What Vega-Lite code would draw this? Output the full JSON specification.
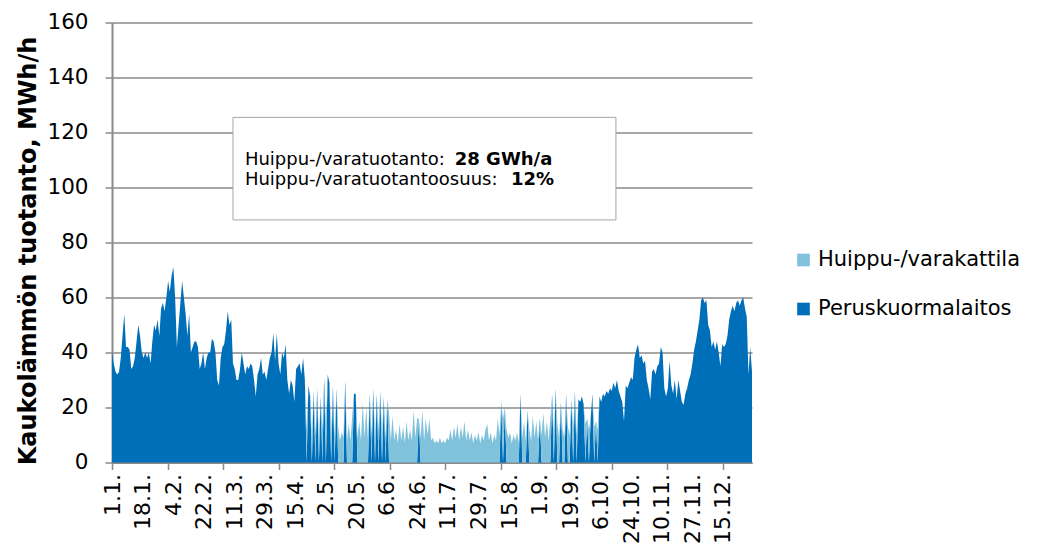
{
  "$schema": "https://vega.github.io/schema/vega-lite/v6.json",
  "width": 640,
  "height": 440,
  "autosize": {"type": "none"},
  "padding": {"left": 112, "top": 22.5, "right": 293, "bottom": 88.5},
  "background": "white",
  "config": {"view": {"stroke": null}, "font": "DejaVu Sans"},
  "resolve": {"axis": {"x": "independent"}},
  "layer": [
    {
      "data": {
        "values": [
          {"d":0,"p":40,"h":0},{"d":1,"p":36,"h":0},{"d":2,"p":33,"h":0},{"d":3,"p":32,"h":0},{"d":4,"p":33,"h":0},{"d":5,"p":38,"h":0},{"d":6,"p":46,"h":0},{"d":7,"p":54,"h":0},{"d":8,"p":42,"h":0},{"d":9,"p":42,"h":0},
          {"d":10,"p":41,"h":0},{"d":11,"p":34,"h":0},{"d":12,"p":35,"h":0},{"d":13,"p":38,"h":0},{"d":14,"p":44,"h":0},{"d":15,"p":50,"h":0},{"d":16,"p":46,"h":0},{"d":17,"p":40,"h":0},{"d":18,"p":38,"h":0},{"d":19,"p":40,"h":0},
          {"d":20,"p":38,"h":0},{"d":21,"p":40,"h":0},{"d":22,"p":36,"h":0},{"d":23,"p":44,"h":0},{"d":24,"p":50,"h":0},{"d":25,"p":48,"h":0},{"d":26,"p":52,"h":0},{"d":27,"p":46,"h":0},{"d":28,"p":56,"h":0},{"d":29,"p":58,"h":0},
          {"d":30,"p":55,"h":0},{"d":31,"p":60,"h":0},{"d":32,"p":66,"h":0},{"d":33,"p":62,"h":0},{"d":34,"p":68,"h":0},{"d":35,"p":71,"h":0},{"d":36,"p":60,"h":0},{"d":37,"p":42,"h":0},{"d":38,"p":50,"h":0},{"d":39,"p":58,"h":0},
          {"d":40,"p":66,"h":0},{"d":41,"p":60,"h":0},{"d":42,"p":54,"h":0},{"d":43,"p":46,"h":0},{"d":44,"p":54,"h":0},{"d":45,"p":40,"h":0},{"d":46,"p":42,"h":0},{"d":47,"p":44,"h":0},{"d":48,"p":44,"h":0},{"d":49,"p":42,"h":0},
          {"d":50,"p":34,"h":0},{"d":51,"p":36,"h":0},{"d":52,"p":40,"h":0},{"d":53,"p":34,"h":0},{"d":54,"p":38,"h":0},{"d":55,"p":40,"h":0},{"d":56,"p":40,"h":0},{"d":57,"p":45,"h":0},{"d":58,"p":44,"h":0},{"d":59,"p":40,"h":0},
          {"d":60,"p":30,"h":0},{"d":61,"p":28,"h":0},{"d":62,"p":38,"h":0},{"d":63,"p":42,"h":0},{"d":64,"p":43,"h":0},{"d":65,"p":48,"h":0},{"d":66,"p":55,"h":0},{"d":67,"p":50,"h":0},{"d":68,"p":52,"h":0},{"d":69,"p":36,"h":0},
          {"d":70,"p":34,"h":0},{"d":71,"p":30,"h":0},{"d":72,"p":30,"h":0},{"d":73,"p":34,"h":0},{"d":74,"p":40,"h":0},{"d":75,"p":36,"h":0},{"d":76,"p":32,"h":0},{"d":77,"p":35,"h":0},{"d":78,"p":34,"h":0},{"d":79,"p":36,"h":0},
          {"d":80,"p":35,"h":0},{"d":81,"p":30,"h":0},{"d":82,"p":24,"h":0},{"d":83,"p":32,"h":0},{"d":84,"p":34,"h":0},{"d":85,"p":38,"h":0},{"d":86,"p":32,"h":0},{"d":87,"p":33,"h":0},{"d":88,"p":30,"h":0},{"d":89,"p":34,"h":0},
          {"d":90,"p":38,"h":0},{"d":91,"p":40,"h":0},{"d":92,"p":47,"h":0},{"d":93,"p":37,"h":0},{"d":94,"p":47,"h":0},{"d":95,"p":36,"h":0},{"d":96,"p":32,"h":0},{"d":97,"p":40,"h":0},{"d":98,"p":38,"h":0},{"d":99,"p":43,"h":0},
          {"d":100,"p":30,"h":0},{"d":101,"p":25,"h":0},{"d":102,"p":30,"h":0},{"d":103,"p":28,"h":0},{"d":104,"p":22,"h":0},{"d":105,"p":34,"h":0},{"d":106,"p":35,"h":0},{"d":107,"p":36,"h":0},{"d":108,"p":32,"h":0},{"d":109,"p":38,"h":0},
          {"d":110,"p":30,"h":0},{"d":111,"p":0,"h":12},{"d":112,"p":28,"h":0},{"d":113,"p":24,"h":0},{"d":114,"p":0,"h":9},{"d":115,"p":26,"h":0},{"d":116,"p":0,"h":10},{"d":117,"p":27,"h":0},{"d":118,"p":0,"h":8},{"d":119,"p":24,"h":0},
          {"d":120,"p":0,"h":12},{"d":121,"p":31,"h":0},{"d":122,"p":0,"h":14},{"d":123,"p":32,"h":0},{"d":124,"p":29,"h":0},{"d":125,"p":0,"h":10},{"d":126,"p":28,"h":0},{"d":127,"p":0,"h":9},{"d":128,"p":27,"h":0},{"d":129,"p":0,"h":13},
          {"d":130,"p":0,"h":8},{"d":131,"p":0,"h":11},{"d":132,"p":0,"h":9},{"d":133,"p":30,"h":0},{"d":134,"p":0,"h":8},{"d":135,"p":0,"h":14},{"d":136,"p":0,"h":8},{"d":137,"p":0,"h":17},{"d":138,"p":25,"h":0},{"d":139,"p":25,"h":0},
          {"d":140,"p":0,"h":9},{"d":141,"p":0,"h":15},{"d":142,"p":0,"h":8},{"d":143,"p":0,"h":22},{"d":144,"p":0,"h":9},{"d":145,"p":0,"h":20},{"d":146,"p":0,"h":8},{"d":147,"p":25,"h":0},{"d":148,"p":0,"h":10},{"d":149,"p":27,"h":0},
          {"d":150,"p":0,"h":9},{"d":151,"p":25,"h":0},{"d":152,"p":0,"h":12},{"d":153,"p":26,"h":0},{"d":154,"p":0,"h":10},{"d":155,"p":24,"h":0},{"d":156,"p":0,"h":9},{"d":157,"p":23,"h":0},{"d":158,"p":0,"h":18},{"d":159,"p":0,"h":8},
          {"d":160,"p":0,"h":17},{"d":161,"p":0,"h":8},{"d":162,"p":0,"h":12},{"d":163,"p":0,"h":7},{"d":164,"p":0,"h":14},{"d":165,"p":0,"h":8},{"d":166,"p":0,"h":13},{"d":167,"p":0,"h":7},{"d":168,"p":0,"h":15},{"d":169,"p":0,"h":8},
          {"d":170,"p":0,"h":12},{"d":171,"p":0,"h":8},{"d":172,"p":0,"h":19},{"d":173,"p":0,"h":9},{"d":174,"p":0,"h":16},{"d":175,"p":16,"h":0},{"d":176,"p":0,"h":9},{"d":177,"p":0,"h":19},{"d":178,"p":0,"h":8},{"d":179,"p":0,"h":16},
          {"d":180,"p":0,"h":10},{"d":181,"p":0,"h":16},{"d":182,"p":0,"h":8},{"d":183,"p":0,"h":9},{"d":184,"p":0,"h":7},{"d":185,"p":0,"h":8},{"d":186,"p":0,"h":7},{"d":187,"p":0,"h":9},{"d":188,"p":0,"h":7},{"d":189,"p":0,"h":8},
          {"d":190,"p":0,"h":7},{"d":191,"p":0,"h":9},{"d":192,"p":0,"h":8},{"d":193,"p":0,"h":12},{"d":194,"p":0,"h":8},{"d":195,"p":0,"h":13},{"d":196,"p":0,"h":9},{"d":197,"p":0,"h":14},{"d":198,"p":0,"h":8},{"d":199,"p":0,"h":13},
          {"d":200,"p":0,"h":9},{"d":201,"p":0,"h":15},{"d":202,"p":0,"h":8},{"d":203,"p":0,"h":12},{"d":204,"p":0,"h":8},{"d":205,"p":0,"h":11},{"d":206,"p":0,"h":7},{"d":207,"p":0,"h":10},{"d":208,"p":0,"h":8},{"d":209,"p":0,"h":11},
          {"d":210,"p":0,"h":7},{"d":211,"p":0,"h":10},{"d":212,"p":0,"h":8},{"d":213,"p":0,"h":12},{"d":214,"p":0,"h":14},{"d":215,"p":0,"h":8},{"d":216,"p":0,"h":11},{"d":217,"p":0,"h":7},{"d":218,"p":0,"h":10},{"d":219,"p":0,"h":8},
          {"d":220,"p":0,"h":16},{"d":221,"p":0,"h":10},{"d":222,"p":22,"h":0},{"d":223,"p":0,"h":16},{"d":224,"p":20,"h":0},{"d":225,"p":0,"h":12},{"d":226,"p":0,"h":9},{"d":227,"p":0,"h":11},{"d":228,"p":0,"h":7},{"d":229,"p":0,"h":10},
          {"d":230,"p":0,"h":8},{"d":231,"p":0,"h":11},{"d":232,"p":0,"h":7},{"d":233,"p":25,"h":0},{"d":234,"p":0,"h":9},{"d":235,"p":0,"h":15},{"d":236,"p":0,"h":8},{"d":237,"p":19,"h":0},{"d":238,"p":0,"h":12},{"d":239,"p":0,"h":8},
          {"d":240,"p":0,"h":17},{"d":241,"p":0,"h":9},{"d":242,"p":0,"h":15},{"d":243,"p":0,"h":8},{"d":244,"p":16,"h":0},{"d":245,"p":0,"h":10},{"d":246,"p":0,"h":18},{"d":247,"p":0,"h":9},{"d":248,"p":0,"h":15},{"d":249,"p":0,"h":8},
          {"d":250,"p":0,"h":16},{"d":251,"p":25,"h":0},{"d":252,"p":0,"h":10},{"d":253,"p":27,"h":0},{"d":254,"p":0,"h":14},{"d":255,"p":0,"h":9},{"d":256,"p":22,"h":0},{"d":257,"p":0,"h":12},{"d":258,"p":0,"h":9},{"d":259,"p":25,"h":0},
          {"d":260,"p":0,"h":13},{"d":261,"p":0,"h":10},{"d":262,"p":23,"h":0},{"d":263,"p":0,"h":12},{"d":264,"p":26,"h":0},{"d":265,"p":0,"h":10},{"d":266,"p":23,"h":0},{"d":267,"p":22,"h":0},{"d":268,"p":24,"h":0},{"d":269,"p":21,"h":0},
          {"d":270,"p":0,"h":14},{"d":271,"p":16,"h":0},{"d":272,"p":0,"h":12},{"d":273,"p":16,"h":0},{"d":274,"p":25,"h":0},{"d":275,"p":0,"h":13},{"d":276,"p":15,"h":0},{"d":277,"p":0,"h":12},{"d":278,"p":24,"h":0},{"d":279,"p":22,"h":0},
          {"d":280,"p":25,"h":0},{"d":281,"p":24,"h":0},{"d":282,"p":26,"h":0},{"d":283,"p":25,"h":0},{"d":284,"p":27,"h":0},{"d":285,"p":26,"h":0},{"d":286,"p":29,"h":0},{"d":287,"p":27,"h":0},{"d":288,"p":30,"h":0},{"d":289,"p":26,"h":0},
          {"d":290,"p":24,"h":0},{"d":291,"p":22,"h":0},{"d":292,"p":15,"h":0},{"d":293,"p":28,"h":0},{"d":294,"p":27,"h":0},{"d":295,"p":29,"h":0},{"d":296,"p":31,"h":0},{"d":297,"p":30,"h":0},{"d":298,"p":38,"h":0},{"d":299,"p":41,"h":0},
          {"d":300,"p":43,"h":0},{"d":301,"p":38,"h":0},{"d":302,"p":39,"h":0},{"d":303,"p":36,"h":0},{"d":304,"p":37,"h":0},{"d":305,"p":30,"h":0},{"d":306,"p":27,"h":0},{"d":307,"p":23,"h":0},{"d":308,"p":33,"h":0},{"d":309,"p":34,"h":0},
          {"d":310,"p":32,"h":0},{"d":311,"p":35,"h":0},{"d":312,"p":36,"h":0},{"d":313,"p":42,"h":0},{"d":314,"p":40,"h":0},{"d":315,"p":27,"h":0},{"d":316,"p":24,"h":0},{"d":317,"p":27,"h":0},{"d":318,"p":37,"h":0},{"d":319,"p":28,"h":0},
          {"d":320,"p":25,"h":0},{"d":321,"p":30,"h":0},{"d":322,"p":23,"h":0},{"d":323,"p":30,"h":0},{"d":324,"p":26,"h":0},{"d":325,"p":22,"h":0},{"d":326,"p":21,"h":0},{"d":327,"p":25,"h":0},{"d":328,"p":27,"h":0},{"d":329,"p":30,"h":0},
          {"d":330,"p":32,"h":0},{"d":331,"p":36,"h":0},{"d":332,"p":41,"h":0},{"d":333,"p":44,"h":0},{"d":334,"p":48,"h":0},{"d":335,"p":52,"h":0},{"d":336,"p":59,"h":0},{"d":337,"p":60,"h":0},{"d":338,"p":58,"h":0},{"d":339,"p":59,"h":0},
          {"d":340,"p":50,"h":0},{"d":341,"p":48,"h":0},{"d":342,"p":42,"h":0},{"d":343,"p":44,"h":0},{"d":344,"p":41,"h":0},{"d":345,"p":44,"h":0},{"d":346,"p":40,"h":0},{"d":347,"p":35,"h":0},{"d":348,"p":43,"h":0},{"d":349,"p":42,"h":0},
          {"d":350,"p":43,"h":0},{"d":351,"p":46,"h":0},{"d":352,"p":52,"h":0},{"d":353,"p":55,"h":0},{"d":354,"p":57,"h":0},{"d":355,"p":55,"h":0},{"d":356,"p":58,"h":0},{"d":357,"p":59,"h":0},{"d":358,"p":57,"h":0},{"d":359,"p":59,"h":0},
          {"d":360,"p":60,"h":0},{"d":361,"p":56,"h":0},{"d":362,"p":53,"h":0},{"d":363,"p":32,"h":0},{"d":364,"p":42,"h":0},{"d":365,"p":33,"h":0}
        ]
      },
      "transform": [{"fold": ["p", "h"], "as": ["s", "v"]}],
      "mark": {"type": "area", "interpolate": "linear", "opacity": 1},
      "encoding": {
        "x": {
          "field": "d",
          "type": "quantitative",
          "scale": {"domain": [0, 365], "nice": false, "zero": false},
          "axis": {
            "orient": "bottom",
            "title": null,
            "grid": false,
            "values": [0, 17.41667, 34.83333, 52.25, 69.66667, 87.08333, 104.5, 121.91667, 139.33333, 156.75, 174.16667, 191.58333, 209, 226.41667, 243.83333, 261.25, 278.66667, 296.08333, 313.5, 330.91667, 348.33333],
            "labelExpr": "['1.1.','18.1.','4.2.','22.2.','11.3.','29.3.','15.4.','2.5.','20.5.','6.6.','24.6.','11.7.','29.7.','15.8.','1.9.','19.9.','6.10.','24.10.','10.11.','27.11.','15.12.'][round(datum.value*24/418)]",
            "labelAngle": -90,
            "labelAlign": "right",
            "labelBaseline": "middle",
            "labelFont": "DejaVu Sans",
            "labelFontSize": 22,
            "labelColor": "#000000",
            "labelPadding": 11,
            "labelOverlap": false,
            "labelFlush": false,
            "labelBound": false,
            "ticks": false,
            "domainColor": "#8A8A8A",
            "domainWidth": 2
          }
        },
        "y": {
          "field": "v",
          "type": "quantitative",
          "stack": "zero",
          "scale": {"domain": [0, 160], "nice": false},
          "axis": {
            "values": [0, 20, 40, 60, 80, 100, 120, 140, 160],
            "title": "Kaukolämmön tuotanto, MWh/h",
            "titleFont": "DejaVu Sans",
            "titleFontSize": 24,
            "titleFontWeight": "bold",
            "titleColor": "#000000",
            "titleAngle": -90,
            "titleAlign": "center",
            "titleBaseline": "middle",
            "titleX": -84,
            "titleY": 228,
            "labelFont": "DejaVu Sans",
            "labelFontSize": 21.5,
            "labelColor": "#000000",
            "labelPadding": 17,
            "tickColor": "#8A8A8A",
            "tickSize": 7,
            "tickWidth": 1.5,
            "domainColor": "#8A8A8A",
            "domainWidth": 2,
            "grid": true,
            "gridColor": "#8A8A8A",
            "gridWidth": 1.6
          }
        },
        "color": {
          "field": "s",
          "type": "nominal",
          "scale": {"domain": ["h", "p"], "range": ["#80C2DB", "#006FBA"]},
          "legend": {
            "orient": "none",
            "legendX": 681,
            "legendY": 227,
            "title": null,
            "padding": 0,
            "symbolType": "square",
            "symbolSize": 160,
            "symbolStrokeWidth": 0,
            "symbolOpacity": 1,
            "labelFont": "DejaVu Sans",
            "labelFontSize": 21,
            "labelColor": "#000000",
            "labelOffset": 4,
            "labelLimit": 400,
            "rowPadding": 27,
            "labelExpr": "datum.label == 'h' ? 'Huippu-/varakattila' : 'Peruskuormalaitos'"
          }
        },
        "order": {"field": "s", "sort": "descending"}
      }
    },
    {
      "data": {"values": [{}]},
      "mark": {"type": "rect", "fill": "#FFFFFF", "stroke": "#A6A6A6", "strokeWidth": 1},
      "encoding": {
        "x": {
          "datum": 69,
          "axis": {
            "orient": "bottom",
            "title": null,
            "grid": false,
            "labels": false,
            "domain": false,
            "ticks": true,
            "values": [0, 31.66667, 63.33333, 95, 126.66667, 158.33333, 190, 221.66667, 253.33333, 285, 316.66667, 348.33333],
            "tickColor": "#8A8A8A",
            "tickSize": 7,
            "tickWidth": 1.5
          }
        },
        "x2": {"datum": 287.4},
        "y": {"datum": 125.5},
        "y2": {"datum": 88.2}
      }
    },
    {
      "data": {"values": [{}]},
      "mark": {"type": "text", "align": "left", "baseline": "alphabetic", "font": "DejaVu Sans", "fontSize": 18, "color": "#000000", "text": "Huippu-/varatuotanto:"},
      "encoding": {"x": {"datum": 75.8, "axis": null}, "y": {"datum": 108.2}}
    },
    {
      "data": {"values": [{}]},
      "mark": {"type": "text", "align": "left", "baseline": "alphabetic", "font": "DejaVu Sans", "fontSize": 18, "fontWeight": "bold", "color": "#000000", "text": "28 GWh/a"},
      "encoding": {"x": {"datum": 195.5, "axis": null}, "y": {"datum": 108.2}}
    },
    {
      "data": {"values": [{}]},
      "mark": {"type": "text", "align": "left", "baseline": "alphabetic", "font": "DejaVu Sans", "fontSize": 18, "color": "#000000", "text": "Huippu-/varatuotantoosuus:"},
      "encoding": {"x": {"datum": 75.8, "axis": null}, "y": {"datum": 100.9}}
    },
    {
      "data": {"values": [{}]},
      "mark": {"type": "text", "align": "left", "baseline": "alphabetic", "font": "DejaVu Sans", "fontSize": 18, "fontWeight": "bold", "color": "#000000", "text": "12%"},
      "encoding": {"x": {"datum": 227.5, "axis": null}, "y": {"datum": 100.9}}
    }
  ]
}
